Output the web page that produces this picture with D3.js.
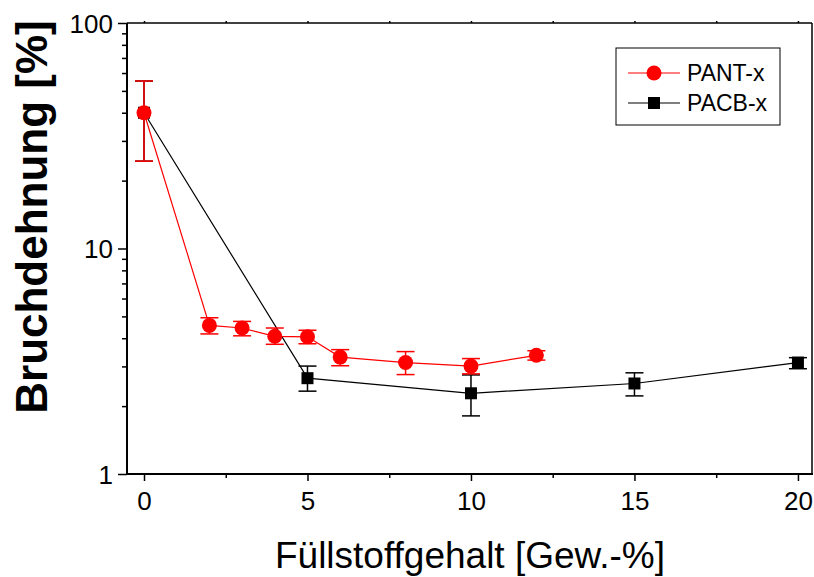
<!DOCTYPE html>
<html>
<head>
<meta charset="utf-8">
<script src="https://cdn.jsdelivr.net/npm/d3@7"></script>
<style>
    body { margin: 0; background: #fff; }
    text { font-family: 'Liberation Sans', Arial, sans-serif; }
</style>
</head>
<body>
<div id="chart"></div>
<script>
// PANT-x series (red circles)
var pantX = [0, 2, 3, 4, 5, 6, 8, 10, 12];
var pantY = [40, 4.56, 4.44, 4.08, 4.06, 3.30, 3.12, 3.01, 3.36];
var pantLo = [24.4, 4.18, 4.10, 3.76, 3.78, 3.02, 2.76, 2.78, 3.20];
var pantHi = [55.3, 4.93, 4.75, 4.44, 4.34, 3.56, 3.49, 3.25, 3.52];

// PACB-x series (black squares)
var pacbX = [0, 5, 10, 15, 20];
var pacbY = [40, 2.66, 2.28, 2.52, 3.12];
var pacbLo = [24.4, 2.33, 1.81, 2.22, 2.93];
var pacbHi = [55.3, 3.01, 2.75, 2.81, 3.28];

var xTicks = [0, 5, 10, 15, 20];
var xMinor = [2.5, 7.5, 12.5, 17.5];
var yTicks = [1, 10, 100];
var yMinor = [2, 3, 4, 5, 6, 7, 8, 9, 20, 30, 40, 50, 60, 70, 80, 90];

var seriesNames = ['PANT-x', 'PACB-x'];

function drawChart() {
    var width = 814,
        height = 577,
        pLeft = 127, pRight = 812, pTop = 23, pBottom = 474;

    var svg = d3.select('#chart').append('svg')
        .attr('width', width)
        .attr('height', height);

    var x = d3.scaleLinear().domain([-0.52, 20.43]).range([pLeft, pRight]);
    var y = d3.scaleLog().domain([1, 100]).range([pBottom, pTop]);

    function zip(xs, ys, lo, hi) {
        return xs.map(function(d, i) {
            return { x: d, y: ys[i], lo: lo[i], hi: hi[i] };
        });
    }

    var pant = zip(pantX, pantY, pantLo, pantHi);
    var pacb = zip(pacbX, pacbY, pacbLo, pacbHi);

    // axes
    function styleAxis(g) {
        g.select('.domain').remove();
        g.attr('font-size', null).attr('font-family', null);
        g.selectAll('line').attr('stroke', '#000').attr('stroke-width', 1.5);
        g.selectAll('text').attr('fill', '#000').attr('font-size', 26).style('font-size', '26px');
    }

    svg.append('g')
        .attr('transform', 'translate(' + pLeft + ',0)')
        .call(d3.axisLeft(y).tickValues(yTicks).tickSize(9).tickPadding(5).tickFormat(d3.format('d')))
        .call(styleAxis)
        .selectAll('text').attr('dy', '0.36em');

    svg.append('g')
        .attr('transform', 'translate(' + pLeft + ',0)')
        .call(d3.axisLeft(y).tickValues(yMinor).tickSize(5).tickFormat(''))
        .call(styleAxis);

    svg.append('g')
        .attr('transform', 'translate(0,' + pBottom + ')')
        .call(d3.axisBottom(x).tickValues(xTicks).tickSize(7).tickPadding(11))
        .call(styleAxis);

    svg.append('g')
        .attr('transform', 'translate(0,' + pBottom + ')')
        .call(d3.axisBottom(x).tickValues(xMinor).tickSize(4).tickFormat(''))
        .call(styleAxis);

    svg.append('g')
        .attr('transform', 'translate(0,' + pTop + ')')
        .call(d3.axisTop(x).tickValues(xTicks.concat(xMinor)).tickSize(2).tickFormat(''))
        .call(styleAxis);

    // frame
    svg.append('line').attr('x1', pLeft).attr('x2', pRight).attr('y1', pTop).attr('y2', pTop)
        .attr('stroke', '#000').attr('stroke-width', 1.5);
    svg.append('line').attr('x1', pRight).attr('x2', pRight).attr('y1', pTop).attr('y2', pBottom)
        .attr('stroke', '#000').attr('stroke-width', 1.5);
    svg.append('line').attr('x1', pLeft).attr('x2', pLeft).attr('y1', pTop).attr('y2', pBottom + 1)
        .attr('stroke', '#000').attr('stroke-width', 2);
    svg.append('line').attr('x1', pLeft - 1).attr('x2', pRight + 1).attr('y1', pBottom).attr('y2', pBottom)
        .attr('stroke', '#000').attr('stroke-width', 2);

    // axis titles
    svg.append('text')
        .attr('x', 470)
        .attr('y', 568)
        .attr('text-anchor', 'middle')
        .style('font-size', '37px')
        .text('Füllstoffgehalt [Gew.-%]');

    svg.append('text')
        .attr('transform', 'translate(47,217)rotate(-90)')
        .attr('text-anchor', 'middle')
        .style('font-size', '44px')
        .style('font-weight', 'bold')
        .text('Bruchdehnung [%]');

    var line = d3.line()
        .x(function(d) { return x(d.x); })
        .y(function(d) { return y(d.y); });

    function drawSeries(data, color, shape) {
        var g = svg.append('g');

        g.append('path')
            .datum(data)
            .attr('d', line)
            .attr('fill', 'none')
            .attr('stroke', color)
            .attr('stroke-width', 1.2);

        // error bars
        var err = g.selectAll('.err').data(data).enter().append('g');
        err.append('line')
            .attr('x1', function(d) { return x(d.x); })
            .attr('x2', function(d) { return x(d.x); })
            .attr('y1', function(d) { return y(d.lo); })
            .attr('y2', function(d) { return y(d.hi); })
            .attr('stroke', color).attr('stroke-width', 1.5);
        err.append('line')
            .attr('x1', function(d) { return x(d.x) - 9; })
            .attr('x2', function(d) { return x(d.x) + 9; })
            .attr('y1', function(d) { return y(d.hi); })
            .attr('y2', function(d) { return y(d.hi); })
            .attr('stroke', color).attr('stroke-width', 1.5);
        err.append('line')
            .attr('x1', function(d) { return x(d.x) - 9; })
            .attr('x2', function(d) { return x(d.x) + 9; })
            .attr('y1', function(d) { return y(d.lo); })
            .attr('y2', function(d) { return y(d.lo); })
            .attr('stroke', color).attr('stroke-width', 1.5);

        g.selectAll('.pt').data(data).enter()
            .append('path')
            .attr('transform', function(d) { return 'translate(' + x(d.x) + ',' + y(d.y) + ')'; })
            .attr('d', shape)
            .attr('fill', color);
    }

    var circle = d3.symbol().type(d3.symbolCircle).size(Math.PI * 7.5 * 7.5)();
    var square = d3.symbol().type(d3.symbolSquare).size(12 * 12)();

    drawSeries(pacb, '#000', square);
    drawSeries(pant, '#ff0000', circle);

    // legend
    var legend = svg.append('g');
    legend.append('rect')
        .attr('x', 616).attr('y', 48)
        .attr('width', 164).attr('height', 77)
        .attr('fill', '#fff')
        .attr('stroke', '#000')
        .attr('stroke-width', 1);

    var legendColors = ['#ff0000', '#000'];
    var legendShapes = [circle, square];
    seriesNames.forEach(function(name, i) {
        var ly = 73 + i * 30;
        legend.append('line')
            .attr('x1', 628).attr('x2', 680)
            .attr('y1', ly).attr('y2', ly)
            .attr('stroke', legendColors[i]).attr('stroke-width', 1.2);
        legend.append('path')
            .attr('transform', 'translate(654,' + ly + ')')
            .attr('d', legendShapes[i])
            .attr('fill', legendColors[i]);
        legend.append('text')
            .attr('x', 687).attr('y', ly)
            .attr('dy', '0.36em')
            .style('font-size', '23px')
            .text(name);
    });
}

drawChart();
</script>
</body>
</html>
